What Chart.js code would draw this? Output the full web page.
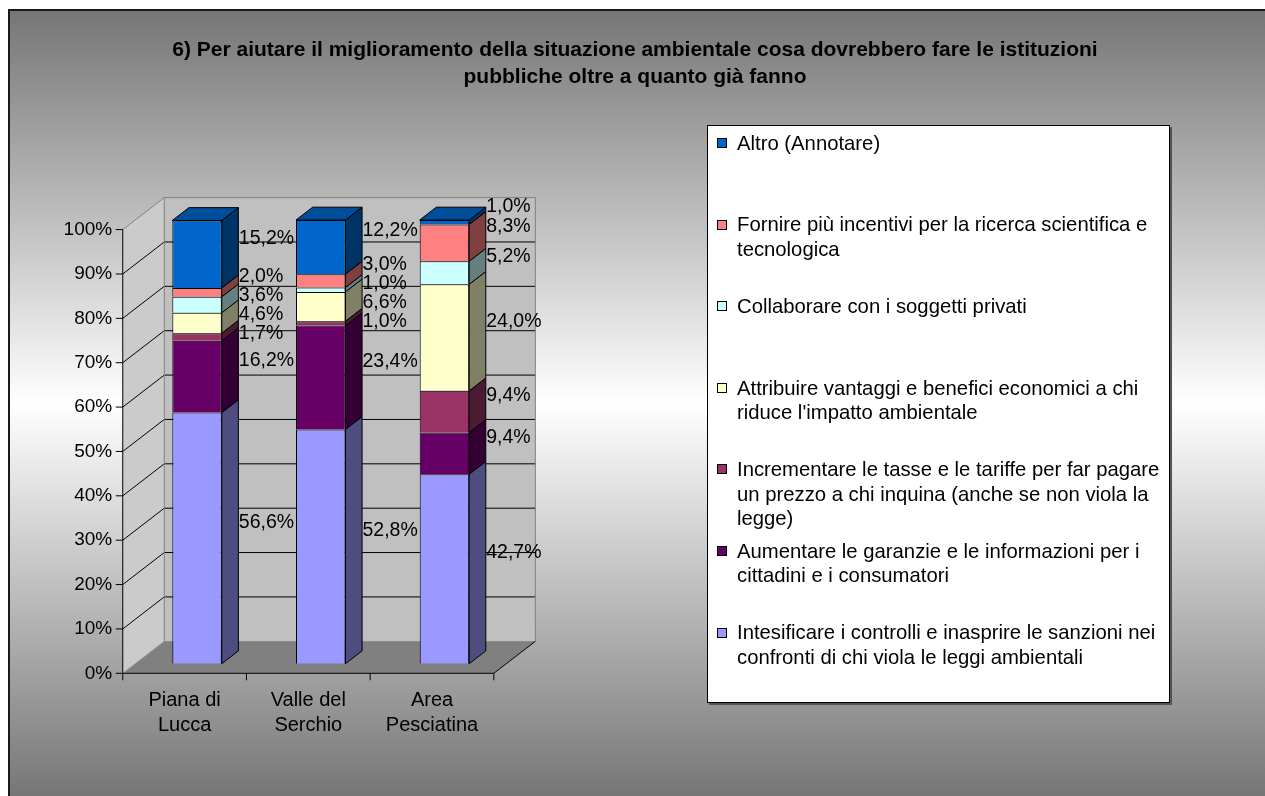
<!DOCTYPE html>
<html><head><meta charset="utf-8">
<script src="https://cdn.jsdelivr.net/npm/chart.js@4/dist/chart.umd.min.js"></script>
<style>
html,body{margin:0;padding:0;background:#fff;width:1265px;height:796px;overflow:hidden;font-family:"Liberation Sans",Arial,sans-serif;}
#frame{position:absolute;left:8px;top:9px;width:1257px;height:787px;background:linear-gradient(to bottom,#767676 0%,#ffffff 50%,#767676 100%);border-top:2px solid #1a1a1a;border-left:2px solid #1a1a1a;box-sizing:border-box;}
#c{position:absolute;left:0;top:0;}
#title{position:absolute;left:0;top:35px;width:1270px;text-align:center;font-weight:bold;font-size:21px;line-height:27px;color:#000;}
#legend{position:absolute;left:707px;top:125px;width:463px;height:578px;background:#fff;border:1px solid #000;box-shadow:2px 2px 0 #555;box-sizing:border-box;}
.sw{position:absolute;left:9px;width:10px;height:10px;border:1px solid #000;box-sizing:border-box;}
.lt{position:absolute;left:29px;white-space:nowrap;font-size:20.3px;line-height:24.5px;color:#000;}
</style></head>
<body>
<div id="frame"></div>
<canvas id="c" width="1265" height="796"></canvas>
<div id="title">6) Per aiutare il miglioramento della situazione ambientale cosa dovrebbero fare le istituzioni<br>pubbliche oltre a quanto già fanno</div>
<div id="legend"></div>
<script>
// ---- data ----
const categories = [['Piana di','Lucca'], ['Valle del','Serchio'], ['Area','Pesciatina']];
const yTickLabels = ['0%','10%','20%','30%','40%','50%','60%','70%','80%','90%','100%'];
const seriesNames = [
  ['Intesificare i controlli e inasprire le sanzioni nei', 'confronti di chi viola le leggi ambientali'],
  ['Aumentare le garanzie e le informazioni per i', 'cittadini e i consumatori'],
  ['Incrementare le tasse e le tariffe per far pagare', 'un prezzo a chi inquina (anche se non viola la', 'legge)'],
  ['Attribuire vantaggi e benefici economici a chi', "riduce l'impatto ambientale"],
  ['Collaborare con i soggetti privati'],
  ['Fornire più incentivi per la ricerca scientifica e', 'tecnologica'],
  ['Altro (Annotare)']
];
const intensificareControlli = [56.6, 52.8, 42.7];
const aumentareGaranzie      = [16.2, 23.4, 9.4];
const incrementareTasse      = [1.7, 1.0, 9.4];
const attribuireVantaggi     = [4.6, 6.6, 24.0];
const collaborarePrivati     = [3.6, 1.0, 5.2];
const fornireIncentivi       = [2.0, 3.0, 8.3];
const altro                  = [15.2, 12.2, 1.0];
const seriesValues = [intensificareControlli, aumentareGaranzie, incrementareTasse, attribuireVantaggi, collaborarePrivati, fornireIncentivi, altro];

// ---- styles ----
const colors = ['#9999FF','#660066','#993366','#FFFFCC','#CCFFFF','#FF8080','#0066CC'];
const FONT = '"Liberation Sans", Arial, sans-serif';
const D = {dx: 41.5, dy: -32};   // full 3D depth vector
const F = -0.3, B = 0.7, BAR_D = 0.4;

function shade(hex, k) {
  const n = parseInt(hex.slice(1), 16);
  const r = Math.round(((n >> 16) & 255) * k), g = Math.round(((n >> 8) & 255) * k), b = Math.round((n & 255) * k);
  return `rgb(${r},${g},${b})`;
}
function poly(ctx, pts, fill, stroke) {
  ctx.beginPath();
  ctx.moveTo(pts[0][0], pts[0][1]);
  for (let i = 1; i < pts.length; i++) ctx.lineTo(pts[i][0], pts[i][1]);
  ctx.closePath();
  if (fill) { ctx.fillStyle = fill; ctx.fill(); }
  if (stroke) { ctx.strokeStyle = stroke; ctx.lineWidth = 1; ctx.stroke(); }
}
function line(ctx, pts, color) {
  ctx.beginPath();
  ctx.moveTo(pts[0][0], pts[0][1]);
  for (let i = 1; i < pts.length; i++) ctx.lineTo(pts[i][0], pts[i][1]);
  ctx.strokeStyle = color; ctx.lineWidth = 1; ctx.stroke();
}

const frame3d = {
  id: 'frame3d',
  beforeDatasetsDraw(chart) {
    const ctx = chart.ctx, L = chart.chartArea.left, R = chart.chartArea.right;
    const ys = chart.scales.y;
    const y0 = ys.getPixelForValue(0), y100 = ys.getPixelForValue(100);
    const P = (x, y, t) => [x + t * D.dx, y + t * D.dy];
    ctx.save();
    poly(ctx, [P(L,y0,F), P(L,y100,F), P(L,y100,B), P(L,y0,B)], '#cbcbcb');
    poly(ctx, [P(L,y100,B), P(R,y100,B), P(R,y0,B), P(L,y0,B)], '#c0c0c0');
    poly(ctx, [P(L,y0,F), P(R,y0,F), P(R,y0,B), P(L,y0,B)], '#808080');
    for (let v = 10; v < 100; v += 10) {
      const yv = ys.getPixelForValue(v);
      line(ctx, [P(L,yv,F), P(L,yv,B), P(R,yv,B)], '#000');
    }
    line(ctx, [P(L,y100,F), P(L,y100,B), P(R,y100,B), P(R,y0,B)], '#808080');
    line(ctx, [P(L,y100,B), P(L,y0,B)], '#808080');
    line(ctx, [P(L,y0,F), P(L,y0,B)], '#9a9a9a');
    line(ctx, [P(R,y0,F), P(R,y0,B)], '#000');
    line(ctx, [P(L,y100,F), P(L,y0,F), P(R,y0,F)], '#000');
    for (let v = 0; v <= 100; v += 10) {
      const p = P(L, ys.getPixelForValue(v), F);
      line(ctx, [[p[0] - 7, p[1]], p], '#000');
    }
    const n = chart.data.labels.length;
    for (let i = 0; i <= n; i++) {
      const p = P(L + i * (R - L) / n, y0, F);
      line(ctx, [p, [p[0], p[1] + 7]], '#000');
    }
    ctx.restore();
  },
  afterDatasetsDraw(chart) {
    const ctx = chart.ctx;
    const nd = chart.data.datasets.length;
    const bdx = BAR_D * D.dx, bdy = BAR_D * D.dy;
    ctx.save();
    for (let i = 0; i < nd; i++) {
      const meta = chart.getDatasetMeta(i);
      const col = chart.data.datasets[i].backgroundColor;
      meta.data.forEach(bar => {
        const p = bar.getProps(['x','y','base','width'], true);
        const xl = p.x - p.width / 2, xr = p.x + p.width / 2;
        const top = Math.min(p.y, p.base), bot = Math.max(p.y, p.base);
        poly(ctx, [[xr, top], [xr + bdx, top + bdy], [xr + bdx, bot + bdy], [xr, bot]], shade(col, 0.5), '#000');
        if (i === nd - 1) {
          poly(ctx, [[xl, top], [xl + bdx, top + bdy], [xr + bdx, top + bdy], [xr, top]], shade(col, 0.75), '#000');
        }
      });
    }
    // data labels
    ctx.font = '19.5px ' + FONT;
    ctx.fillStyle = '#000';
    ctx.textAlign = 'left';
    ctx.textBaseline = 'middle';
    const nc = chart.data.labels.length;
    for (let j = 0; j < nc; j++) {
      let prev = -Infinity;
      for (let i = nd - 1; i >= 0; i--) {
        const bar = chart.getDatasetMeta(i).data[j];
        const p = bar.getProps(['x','y','base','width'], true);
        const v = chart.data.datasets[i].data[j];
        let yy = Math.max((p.y + p.base) / 2 - 16, prev + 19);
        prev = yy;
        ctx.fillText(v.toFixed(1).replace('.', ',') + '%', p.x + p.width / 2 + 17, yy);
      }
    }
    ctx.restore();
  }
};

new Chart(document.getElementById('c'), {
  type: 'bar',
  data: {
    labels: categories,
    datasets: seriesValues.map((vals, i) => ({
      label: seriesNames[i].join(' '),
      data: vals,
      backgroundColor: colors[i],
      borderColor: '#000',
      borderWidth: 1,
      barPercentage: 0.4,
      categoryPercentage: 1
    }))
  },
  options: {
    responsive: false,
    animation: false,
    layout: {padding: {left: 0, top: 220, right: 758.7, bottom: 0}},
    plugins: {legend: {display: false}, title: {display: false}, tooltip: {enabled: false}},
    scales: {
      x: {
        stacked: true,
        grid: {display: false, drawTicks: false},
        border: {display: false},
        ticks: {font: {family: FONT, size: 20, lineHeight: 25 / 20}, color: '#000', padding: 24.5, labelOffset: -12.45, maxRotation: 0, autoSkip: false},
        afterFit: s => { s.height = 132.3; }
      },
      y: {
        stacked: true, min: 0, max: 100,
        grid: {display: false, drawTicks: false},
        border: {display: false},
        ticks: {stepSize: 10, callback: (v, i) => yTickLabels[i], font: {family: FONT, size: 19}, color: '#000', padding: 23, labelOffset: 9.6},
        afterFit: s => { s.width = 135.2; }
      }
    }
  },
  plugins: [frame3d]
});

// legend (reverse order, top = last series)
const lg = document.getElementById('legend');
const order = seriesNames.map((_, i) => i).reverse();
order.forEach((si, k) => {
  const center = 17 + k * 81.6;
  const sw = document.createElement('div');
  sw.className = 'sw';
  sw.style.top = (center - 5) + 'px';
  sw.style.background = colors[si];
  lg.appendChild(sw);
  const t = document.createElement('div');
  t.className = 'lt';
  t.style.top = (center - 12.25) + 'px';
  t.innerHTML = seriesNames[si].map(s => s.replace(/&/g,'&amp;').replace(/</g,'&lt;')).join('<br>');
  lg.appendChild(t);
});
</script>
</body></html>
